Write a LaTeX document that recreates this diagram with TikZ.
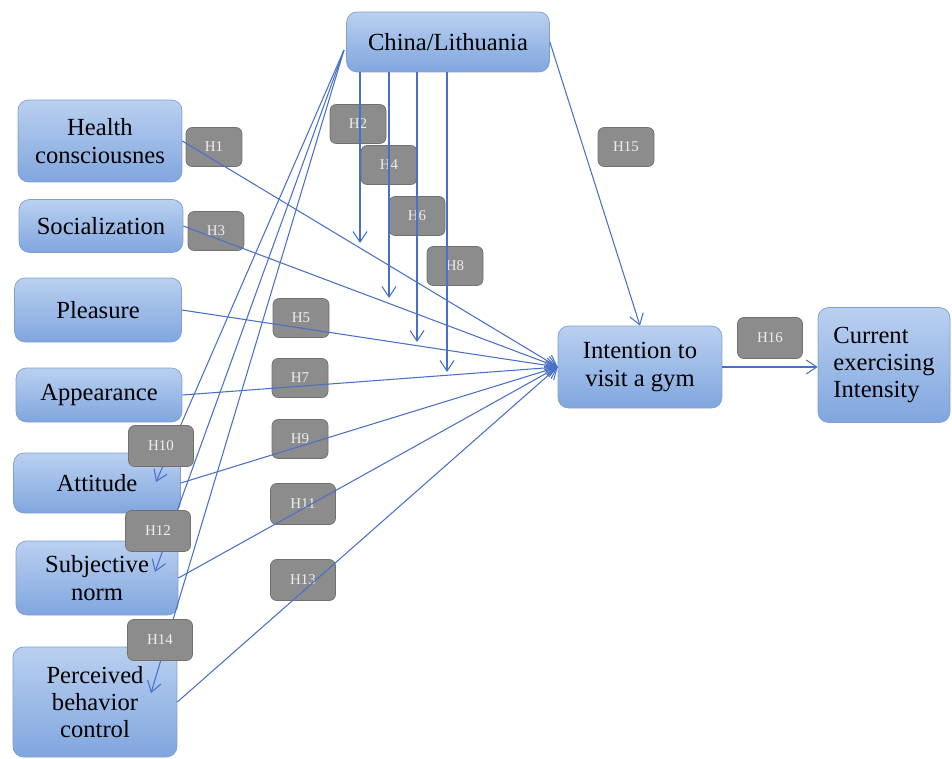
\documentclass[tikz,border=0pt]{standalone}
\usepackage{fontspec}
\setmainfont{Liberation Serif}
\newfontfamily\boxfont{Liberation Serif}
\usetikzlibrary{%
	arrows.meta,%
	calc%
}
\definecolor{boxtop}{RGB}{186,208,240}
\definecolor{boxbot}{RGB}{128,166,222}
\definecolor{boxline}{RGB}{128,158,208}
\definecolor{hypfill}{RGB}{140,140,140}
\definecolor{hypline}{RGB}{112,112,112}
\definecolor{hyptext}{RGB}{238,238,238}
\definecolor{linkcol}{RGB}{72,112,200}

\begin{document}
\begin{tikzpicture}[x=0.02cm,y=-0.02cm,
	factor/.style={rounded corners=6pt, draw=boxline, top color=boxtop, bottom color=boxbot,
		align=center, inner sep=2pt, font=\boxfont\fontsize{14}{15.5}\selectfont},
	hyp/.style={rounded corners=3.5pt, draw=hypline, fill=hypfill, text=hyptext,
		minimum width=1.12cm, minimum height=0.78cm, font=\boxfont\fontsize{8.5}{9}\selectfont},
	hypbig/.style={hyp, minimum width=1.3cm, minimum height=0.82cm},
	link/.style={draw=linkcol, line width=0.6pt},
	>={Straight Barb[length=6pt,width=8pt]}]
		\useasboundingbox (0,0) rectangle (952,758);

		%Factors
		\node[factor, minimum width=4.06cm, minimum height=1.2cm] (china) at (448,42) {China/Lithuania};
		\node[factor, minimum width=3.28cm, minimum height=1.64cm] (health) at (100,141) {Health\\consciousnes};
		\node[factor, minimum width=3.28cm, minimum height=1.06cm] (social) at (101,226) {Socialization};
		\node[factor, minimum width=3.34cm, minimum height=1.28cm] (pleasure) at (98,310) {Pleasure};
		\node[factor, minimum width=3.32cm, minimum height=1.08cm] (appear) at (99,395) {Appearance};
		\node[factor, minimum width=3.34cm, minimum height=1.2cm] (attitude) at (97,483) {Attitude};
		\node[factor, minimum width=3.24cm, minimum height=1.48cm] (subjnorm) at (97,578) {Subjective\\norm};
		\node[factor, minimum width=3.28cm, minimum height=2.2cm] (pbc) at (95,702) {Perceived\\behavior\\control};
		\node[factor, minimum width=3.28cm, minimum height=1.64cm] (intent) at (640,367) {Intention to\\visit a gym};
		\node[factor, minimum width=2.64cm, minimum height=2.3cm, align=left] (current) at (884,365) {Current\\exercising\\Intensity};

		% Moderator to the TPB factors (under the labels)
		\coordinate (chinaL) at (344,50);
		\coordinate (attTip) at (156,482);
		\coordinate (subTip) at (155,572);
		\coordinate (pbcTip) at (151,693);
		\foreach \tip in {attTip,subTip,pbcTip}
		\draw[link,->] (chinaL) -- (\tip);

		% Hypothesis labels
		\foreach \name/\pos in {H1/{(214,147)}, H2/{(358,124)}, H3/{(216,231)}, H4/{(389,165)},
			H5/{(301,318)}, H6/{(417,216)}, H7/{(300,378)}, H8/{(455,266)}, H9/{(300,439)}, H15/{(626,147)}}
		\node[hyp] (\name) at \pos {\name};
		\foreach \name/\pos in {H10/{(161,446)}, H11/{(303,504)}, H12/{(158,531)},
			H13/{(303,580)}, H14/{(160,640)}, H16/{(770,338)}}
		\node[hypbig] (\name) at \pos {\name};

		% Factors to intention
		\foreach \src in {health,social,pleasure,appear,attitude,subjnorm,pbc}
		\draw[link,->] (\src.east) -- (intent.west);

		% Moderator arrows
		\coordinate (m2) at (360,243);
		\coordinate (m4) at (389,298);
		\coordinate (m6) at (417,342);
		\coordinate (m8) at (447,372);
		\foreach \m in {m2,m4,m6,m8}
		\draw[link,->] (china.south -| \m) -- (\m);
		\draw[link,->] (china.east) -- (intent.north);

		% Intention to behaviour
		\draw[link,->] (intent.east) -- (intent.east -| current.west);
\end{tikzpicture}
\end{document}
